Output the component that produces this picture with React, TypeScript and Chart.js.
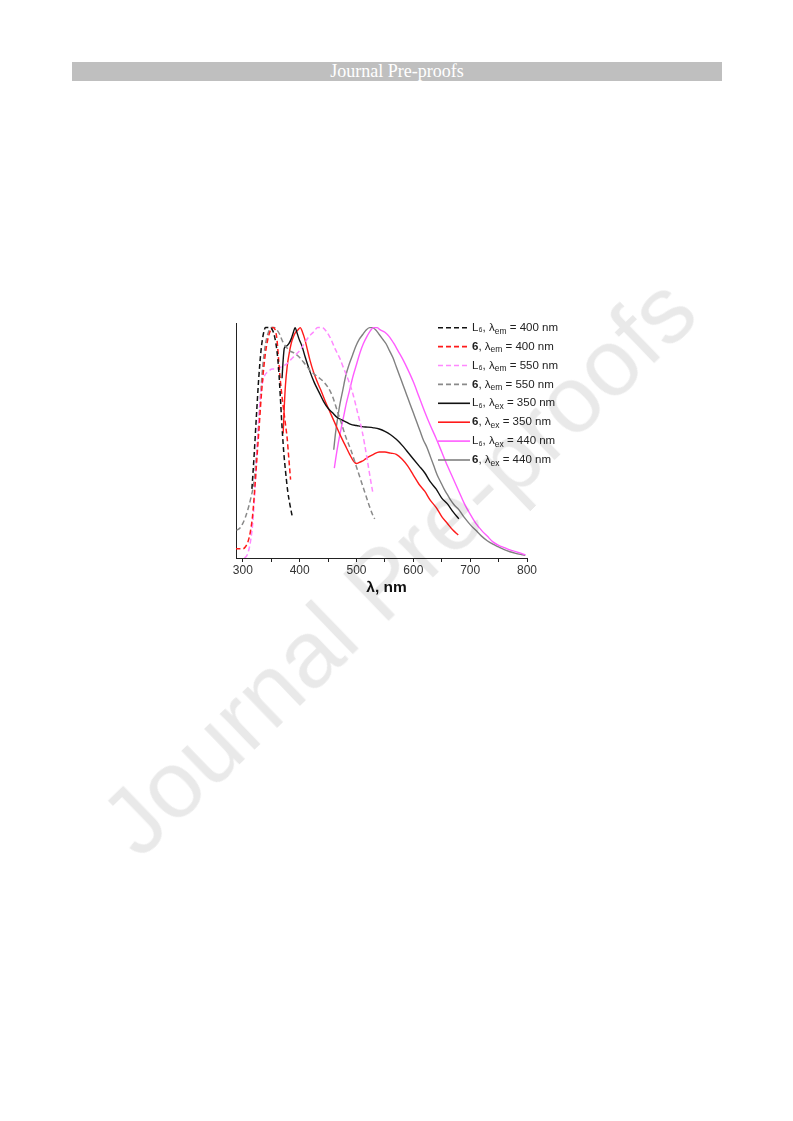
import React, { useEffect, useRef } from "react";
import { Chart, registerables } from "chart.js";

Chart.register(...registerables);

// ---------- axis ----------
const X_MIN = 288;
const X_MAX = 800;
const Y_MIN = 0;
const Y_MAX = 1.02;
const tickValues = [300, 350, 400, 450, 500, 550, 600, 650, 700, 750, 800];
const tickLabels = ["300", "", "400", "", "500", "", "600", "", "700", "", "800"];
const xTitle = "λ, nm";

// ---------- series (normalized intensity vs wavelength, nm) ----------
// L6, λem = 400 nm (excitation)
const l6Em400X = [316, 320, 324, 328, 332, 336, 340, 344, 348, 352, 356, 360, 363, 366, 368, 370, 372, 375, 379, 383, 387];
const l6Em400Y = [0.30, 0.45, 0.62, 0.78, 0.90, 0.97, 1.00, 1.00, 1.00, 0.99, 0.96, 0.90, 0.82, 0.70, 0.61, 0.53, 0.46, 0.38, 0.29, 0.23, 0.18];

// 6, λem = 400 nm
const c6Em400X = [287, 293, 300, 305, 309, 313, 317, 321, 325, 329, 333, 337, 341, 345, 349, 353, 357, 360, 363, 366, 370, 374, 378, 381, 384];
const c6Em400Y = [0.04, 0.04, 0.04, 0.05, 0.07, 0.11, 0.18, 0.30, 0.44, 0.58, 0.72, 0.83, 0.91, 0.96, 0.99, 1.00, 0.99, 0.95, 0.86, 0.77, 0.68, 0.60, 0.52, 0.43, 0.34];

// L6, λem = 550 nm
const l6Em550X = [303, 307, 311, 314, 317, 320, 323, 326, 329, 333, 338, 345, 352, 360, 368, 376, 384, 392, 400, 408, 416, 424, 432, 440, 448, 455, 462, 470, 478, 486, 494, 502, 510, 518, 524, 529];
const l6Em550Y = [0.00, 0.01, 0.04, 0.08, 0.14, 0.24, 0.38, 0.52, 0.64, 0.74, 0.79, 0.81, 0.82, 0.82, 0.83, 0.84, 0.86, 0.88, 0.90, 0.93, 0.96, 0.98, 1.00, 1.00, 0.98, 0.95, 0.91, 0.87, 0.82, 0.77, 0.71, 0.63, 0.55, 0.44, 0.35, 0.28];

// 6, λem = 550 nm
const c6Em550X = [289, 295, 300, 305, 310, 315, 319, 323, 327, 331, 335, 340, 345, 350, 355, 360, 365, 370, 375, 382, 390, 400, 410, 420, 430, 440, 450, 458, 466, 474, 482, 490, 498, 506, 514, 522, 528, 532];
const c6Em550Y = [0.12, 0.13, 0.15, 0.18, 0.22, 0.27, 0.32, 0.42, 0.54, 0.70, 0.83, 0.93, 0.98, 1.00, 1.00, 0.99, 0.97, 0.94, 0.92, 0.90, 0.89, 0.87, 0.84, 0.81, 0.79, 0.77, 0.74, 0.70, 0.64, 0.58, 0.52, 0.47, 0.41, 0.35, 0.29, 0.23, 0.19, 0.17];

// L6, λex = 350 nm (emission)
const l6Ex350X = [369, 371, 373, 377, 381, 385, 389, 392, 395, 399, 404, 410, 418, 426, 434, 442, 450, 458, 466, 474, 482, 490, 500, 510, 520, 530, 540, 550, 560, 570, 580, 590, 600, 610, 620, 630, 640, 650, 660, 670, 680];
const l6Ex350Y = [0.78, 0.86, 0.91, 0.92, 0.93, 0.95, 0.98, 1.00, 0.98, 0.95, 0.92, 0.87, 0.81, 0.76, 0.72, 0.68, 0.65, 0.63, 0.61, 0.60, 0.59, 0.58, 0.575, 0.57, 0.568, 0.565, 0.56, 0.55, 0.535, 0.515, 0.49, 0.46, 0.43, 0.40, 0.37, 0.33, 0.30, 0.26, 0.235, 0.20, 0.17];

// 6, λex = 350 nm
const c6Ex350X = [371, 373, 375, 378, 381, 385, 389, 393, 397, 401, 405, 409, 413, 418, 424, 430, 437, 445, 454, 463, 472, 480, 488, 495, 500, 505, 510, 516, 522, 530, 540, 550, 560, 570, 580, 590, 600, 610, 620, 630, 640, 650, 660, 670, 679];
const c6Ex350Y = [0.54, 0.66, 0.75, 0.83, 0.88, 0.93, 0.96, 0.98, 0.99, 1.00, 0.98, 0.95, 0.91, 0.86, 0.81, 0.77, 0.73, 0.68, 0.63, 0.58, 0.53, 0.49, 0.45, 0.42, 0.41, 0.415, 0.42, 0.43, 0.44, 0.45, 0.46, 0.46, 0.455, 0.45, 0.43, 0.40, 0.36, 0.32, 0.29, 0.25, 0.22, 0.18, 0.15, 0.12, 0.10];

// L6, λex = 440 nm
const l6Ex440X = [461, 464, 468, 472, 477, 482, 488, 494, 500, 506, 512, 518, 524, 530, 536, 542, 550, 558, 566, 574, 582, 590, 600, 610, 620, 630, 640, 650, 660, 670, 680, 690, 700, 710, 720, 730, 740, 750, 760, 770, 780, 790, 797];
const l6Ex440Y = [0.39, 0.44, 0.50, 0.55, 0.61, 0.67, 0.73, 0.79, 0.84, 0.89, 0.93, 0.96, 0.985, 1.00, 1.00, 0.99, 0.98, 0.96, 0.93, 0.895, 0.86, 0.82, 0.765, 0.70, 0.635, 0.575, 0.52, 0.46, 0.40, 0.345, 0.29, 0.235, 0.19, 0.15, 0.12, 0.095, 0.07, 0.055, 0.045, 0.035, 0.028, 0.02, 0.013];

// 6, λex = 440 nm
const c6Ex440X = [460, 463, 467, 471, 476, 481, 487, 493, 499, 505, 511, 517, 523, 528, 534, 540, 546, 552, 558, 564, 570, 576, 582, 588, 594, 600, 606, 612, 618, 624, 630, 636, 642, 648, 654, 660, 666, 672, 680, 690, 700, 710, 720, 730, 740, 750, 760, 770, 780, 790, 797];
const c6Ex440Y = [0.47, 0.54, 0.61, 0.67, 0.73, 0.79, 0.84, 0.88, 0.92, 0.95, 0.97, 0.99, 1.00, 1.00, 0.99, 0.97, 0.95, 0.93, 0.90, 0.87, 0.83, 0.79, 0.75, 0.71, 0.67, 0.63, 0.59, 0.55, 0.51, 0.48, 0.44, 0.40, 0.36, 0.33, 0.30, 0.275, 0.25, 0.23, 0.21, 0.175, 0.145, 0.12, 0.095, 0.075, 0.06, 0.048, 0.036, 0.027, 0.02, 0.015, 0.012];

// ---------- legend text ----------
const legendNames = ["L6", "6", "L6", "6", "L6", "6", "L6", "6"];
const legendModes = ["em", "em", "em", "em", "ex", "ex", "ex", "ex"];
const legendWavelengths = [400, 400, 550, 550, 350, 350, 440, 440];

const seriesX = [l6Em400X, c6Em400X, l6Em550X, c6Em550X, l6Ex350X, c6Ex350X, l6Ex440X, c6Ex440X];
const seriesY = [l6Em400Y, c6Em400Y, l6Em550Y, c6Em550Y, l6Ex350Y, c6Ex350Y, l6Ex440Y, c6Ex440Y];
const seriesColors = ["#111111", "#ff1a1a", "#ff88ff", "#8a8a8a", "#111111", "#ff1a1a", "#ff5cff", "#808080"];
const seriesDashed = [true, true, true, true, false, false, false, false];

// ---------- layout (page px) ----------
const CANVAS_LEFT = 226;
const CANVAS_TOP = 312;
const CANVAS_W = 370;
const CANVAS_H = 292;

const FONT = "'Liberation Sans', Arial, Helvetica, sans-serif";

const overlayPlugin = {
  id: "overlay",
  afterDraw(chart: any) {
    const ctx: CanvasRenderingContext2D = chart.ctx;
    const area = chart.chartArea;
    ctx.save();
    // legend
    const rowY0 = 327.7 - CANVAS_TOP;
    const rowStep = 18.9;
    const lineX0 = 438 - CANVAS_LEFT;
    const lineX1 = 470 - CANVAS_LEFT;
    const textX = 472 - CANVAS_LEFT;
    chart.data.datasets.forEach((ds: any, i: number) => {
      const y = rowY0 + i * rowStep;
      ctx.save();
      ctx.strokeStyle = ds.borderColor;
      ctx.lineWidth = 1.6;
      ctx.setLineDash(ds.borderDash || []);
      ctx.beginPath();
      ctx.moveTo(lineX0, y);
      ctx.lineTo(lineX1, y);
      ctx.stroke();
      ctx.restore();

      ctx.fillStyle = "#222";
      ctx.textBaseline = "middle";
      ctx.textAlign = "left";
      let x = textX;
      const name = legendNames[i];
      if (name === "L6") {
        ctx.font = `11.5px ${FONT}`;
        ctx.fillText("L", x, y);
        x += ctx.measureText("L").width;
        ctx.font = `6.5px ${FONT}`;
        ctx.fillText("6", x + 0.3, y + 3);
        x += ctx.measureText("6").width + 0.6;
      } else {
        ctx.font = `bold 11.5px ${FONT}`;
        ctx.fillText("6", x, y);
        x += ctx.measureText("6").width;
      }
      ctx.font = `11.5px ${FONT}`;
      ctx.fillText(", λ", x, y);
      x += ctx.measureText(", λ").width;
      ctx.font = `8.5px ${FONT}`;
      ctx.fillText(legendModes[i], x, y + 3.5);
      x += ctx.measureText(legendModes[i]).width;
      ctx.font = `11.5px ${FONT}`;
      ctx.fillText(` = ${legendWavelengths[i]} nm`, x, y);
    });

    // x-axis title
    ctx.fillStyle = "#111";
    ctx.font = `bold 15.5px ${FONT}`;
    ctx.textAlign = "center";
    ctx.textBaseline = "middle";
    ctx.fillText(xTitle, (area.left + area.right) / 2 + 5, 588 - CANVAS_TOP);
    ctx.restore();
  },
};

function SpectraChart() {
  const ref = useRef<HTMLCanvasElement | null>(null);
  useEffect(() => {
    if (!ref.current) return;
    const datasets = seriesX.map((xs, i) => ({
      label: `${legendNames[i]} ${legendModes[i]} ${legendWavelengths[i]}`,
      data: xs.map((x, j) => ({ x, y: seriesY[i][j] })),
      borderColor: seriesColors[i],
      backgroundColor: seriesColors[i],
      borderWidth: seriesDashed[i] ? 1.5 : 1.4,
      borderDash: seriesDashed[i] ? [5, 3] : [],
      pointRadius: 0,
      tension: 0.35,
      cubicInterpolationMode: "monotone" as const,
      fill: false,
    }));
    const chart = new Chart(ref.current, {
      type: "line",
      data: { datasets },
      plugins: [overlayPlugin],
      options: {
        animation: false,
        responsive: false,
        devicePixelRatio: 1,
        layout: { padding: { left: 10, top: 11, right: CANVAS_W - 301, bottom: 26 } },
        plugins: { legend: { display: false }, tooltip: { enabled: false } },
        scales: {
          x: {
            type: "linear",
            min: X_MIN,
            max: X_MAX,
            afterBuildTicks: (scale: any) => {
              scale.ticks = tickValues.map((v) => ({ value: v }));
            },
            afterFit: (scale: any) => {
              scale.height = 20;
            },
            ticks: {
              autoSkip: false,
              maxRotation: 0,
              padding: 1,
              color: "#333",
              font: { family: FONT, size: 12 },
              callback: (_v: any, idx: number) => tickLabels[idx],
            },
            grid: { drawOnChartArea: false, drawTicks: true, tickLength: 4, color: "#222", lineWidth: 1 },
            border: { display: true, color: "#222", width: 1 },
          },
          y: {
            type: "linear",
            min: Y_MIN,
            max: Y_MAX,
            afterFit: (scale: any) => {
              scale.width = 0;
            },
            ticks: { display: false },
            grid: { display: false },
            border: { display: true, color: "#222", width: 1 },
          },
        },
      },
    });
    return () => chart.destroy();
  }, []);
  return (
    <canvas
      ref={ref}
      width={CANVAS_W}
      height={CANVAS_H}
      style={{ position: "absolute", left: CANVAS_LEFT - 8, top: CANVAS_TOP - 8, width: CANVAS_W, height: CANVAS_H }}
    />
  );
}

export default function App() {
  return (
    <div style={{ position: "relative", width: 777, height: 1105, overflow: "hidden" }}>
      <div
        style={{
          position: "absolute",
          left: 72 - 8,
          top: 62 - 8,
          width: 650,
          height: 19,
          background: "#bfbfbf",
          color: "#fff",
          fontFamily: "'Liberation Serif', 'Times New Roman', serif",
          fontSize: 18,
          lineHeight: "19px",
          textAlign: "center",
        }}
      >
        Journal Pre-proofs
      </div>
      <SpectraChart />
      <div
        style={{
          position: "absolute",
          left: 398 - 8,
          top: 566 - 8,
          transform: "translate(-50%, -50%) rotate(-44deg)",
          fontFamily: FONT,
          fontSize: 95,
          lineHeight: "95px",
          color: "rgba(0,0,0,0.085)",
          whiteSpace: "nowrap",
          pointerEvents: "none",
        }}
      >
        Journal Pre-proofs
      </div>
    </div>
  );
}
